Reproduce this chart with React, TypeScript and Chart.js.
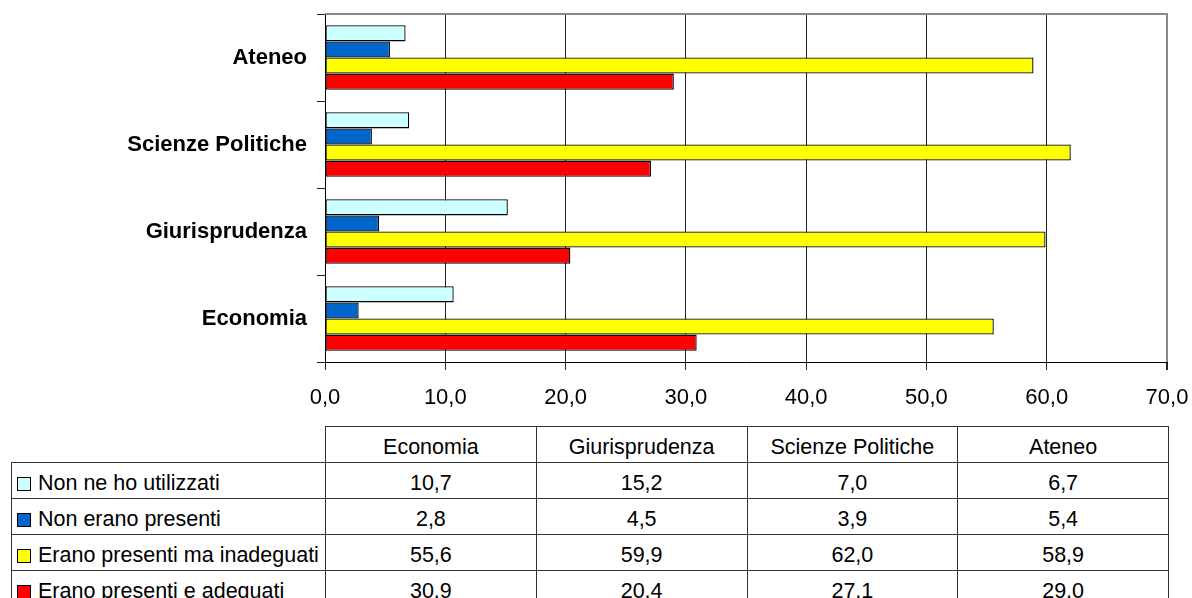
import React, { useEffect, useRef } from "react";
import { Chart, registerables } from "chart.js";

Chart.register(...registerables);

const categories = ["Economia", "Giurisprudenza", "Scienze Politiche", "Ateneo"];
const seriesNames = [
  "Non ne ho utilizzati",
  "Non erano presenti",
  "Erano presenti ma inadeguati",
  "Erano presenti e adeguati",
];
const nonUtilizzati = [10.7, 15.2, 7.0, 6.7];
const nonPresenti = [2.8, 4.5, 3.9, 5.4];
const presentiInadeguati = [55.6, 59.9, 62.0, 58.9];
const presentiAdeguati = [30.9, 20.4, 27.1, 29.0];
const seriesColors = ["#CCFFFF", "#0066CC", "#FFFF00", "#FF0000"];
const xMin = 0;
const xMax = 70;
const xStep = 10;

const seriesValues = [nonUtilizzati, nonPresenti, presentiInadeguati, presentiAdeguati];
const FONT = '"Liberation Sans", Arial, sans-serif';
const fmt = (v: number) => v.toFixed(1).replace(".", ",");

const W = 1192;
const CH = 420;

const topBorderPlugin = {
  id: "topBorder",
  afterDraw(chart: any) {
    const { ctx, chartArea } = chart;
    ctx.save();
    ctx.strokeStyle = "#888888";
    ctx.lineWidth = 2;
    ctx.beginPath();
    ctx.moveTo(chartArea.left, chartArea.top);
    ctx.lineTo(chartArea.right + 1, chartArea.top);
    ctx.stroke();
    ctx.restore();
  },
};

export default function App() {
  const ref = useRef<HTMLCanvasElement | null>(null);

  useEffect(() => {
    if (!ref.current) return;
    const labels = [...categories].reverse();
    const chart = new Chart(ref.current, {
      type: "bar",
      data: {
        labels,
        datasets: seriesNames.map((name, i) => ({
          label: name,
          data: [...seriesValues[i]].reverse(),
          backgroundColor: seriesColors[i],
          borderColor: "#000000",
          borderWidth: 1.3,
          borderSkipped: false,
          categoryPercentage: 0.74,
          barPercentage: 1.0,
        })),
      },
      options: {
        indexAxis: "y",
        responsive: false,
        animation: false,
        devicePixelRatio: 1,
        layout: { padding: { top: 14, right: 25, left: 0, bottom: 0 } },
        plugins: { legend: { display: false }, tooltip: { enabled: false } },
        scales: {
          x: {
            min: xMin,
            max: xMax,
            afterFit: (s: any) => {
              s.height = CH - 362;
              s.paddingLeft = 0;
              s.paddingRight = 0;
            },
            ticks: {
              stepSize: xStep,
              color: "#000",
              font: { family: FONT, size: 22 },
              padding: 15,
              maxRotation: 0,
              callback: (v: any) => fmt(Number(v)),
            },
            grid: {
              color: (c: any) => (c.tick && c.tick.value === xMax ? "#888888" : "#222222"),
              lineWidth: (c: any) => (c.tick && c.tick.value === xMax ? 2 : 1),
              tickColor: "#222222",
              tickLength: 8,
            },
            border: { color: "#000", width: 1 },
          },
          y: {
            afterFit: (s: any) => {
              s.width = 325;
              s.paddingTop = 0;
              s.paddingBottom = 0;
            },
            ticks: {
              color: "#000",
              font: { family: FONT, size: 22, weight: "bold" },
              padding: 10,
            },
            grid: {
              drawOnChartArea: false,
              tickLength: 8,
              tickColor: "#222222",
              offset: true,
            },
            border: { color: "#000", width: 1 },
          },
        },
      },
      plugins: [topBorderPlugin],
    } as any);
    return () => chart.destroy();
  }, []);

  const cellBorder = "1px solid #333";
  const cellStyle: React.CSSProperties = {
    border: cellBorder,
    textAlign: "center",
    height: 30,
    lineHeight: "30px",
    padding: 0,
    paddingTop: 5,
    fontSize: 21.5,
    fontFamily: FONT,
    color: "#000",
    whiteSpace: "nowrap",
    overflow: "hidden",
    boxSizing: "content-box",
  };

  return (
    <div
      style={{
        position: "absolute",
        left: 0,
        top: 0,
        width: W,
        height: 598,
        overflow: "hidden",
        background: "#fff",
      }}
    >
      <canvas
        ref={ref}
        width={W}
        height={CH}
        style={{ position: "absolute", left: 0, top: 0, width: W, height: CH }}
      />
      <table
        style={{
          position: "absolute",
          left: 11,
          top: 426,
          borderCollapse: "collapse",
          tableLayout: "fixed",
          width: 1157,
        }}
      >
        <colgroup>
          <col style={{ width: 314 }} />
          {categories.map((c) => (
            <col key={c} style={{ width: 210.75 }} />
          ))}
        </colgroup>
        <tbody>
          <tr>
            <td style={{ ...cellStyle, border: "none" }}></td>
            {categories.map((c) => (
              <td key={c} style={cellStyle}>
                {c}
              </td>
            ))}
          </tr>
          {seriesNames.map((name, i) => (
            <tr key={name}>
              <td style={{ ...cellStyle, textAlign: "left", paddingLeft: 5 }}>
                <span
                  style={{
                    display: "inline-block",
                    width: 12,
                    height: 12,
                    background: seriesColors[i],
                    border: "1px solid #000",
                    marginRight: 7,
                    verticalAlign: "-1px",
                  }}
                />
                {name}
              </td>
              {seriesValues[i].map((v, j) => (
                <td key={j} style={cellStyle}>
                  {fmt(v)}
                </td>
              ))}
            </tr>
          ))}
        </tbody>
      </table>
    </div>
  );
}
